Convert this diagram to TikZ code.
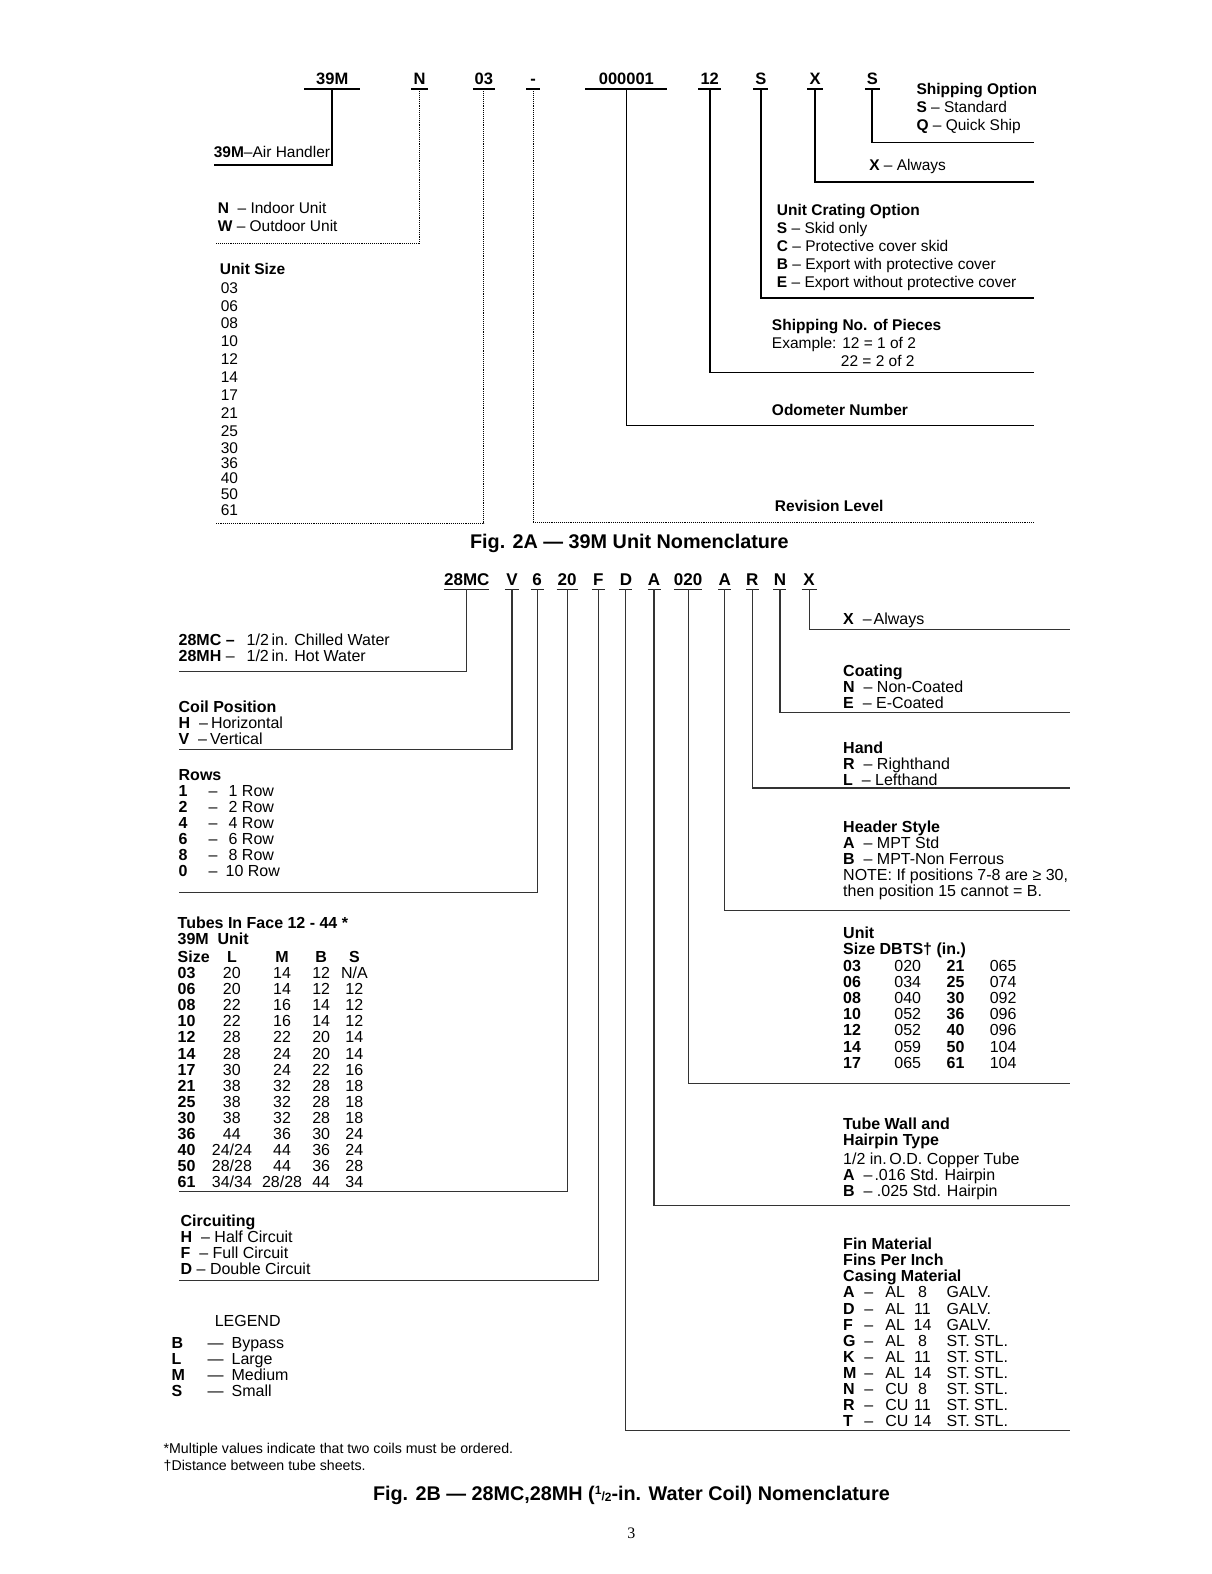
\documentclass[tikz,border=0pt]{standalone}
\usepackage{fontspec}
\setmainfont{Liberation Sans}
\newfontfamily\pagenumfont{Liberation Serif}
\tikzset{
  nomen/.style={x=1.0041pt, y=-1.0041pt,
    every node/.style={inner sep=0pt, outer sep=0pt, text=black}},
  codeA/.style={font=\fontsize{16.5}{18}\selectfont\bfseries, anchor=base,
    text depth=0pt, inner ysep=5pt, minimum width=#1},
  codeB/.style={font=\fontsize{17}{18}\selectfont\bfseries, anchor=base,
    text depth=0pt, inner ysep=4pt, minimum width=#1},
  descA/.style={font=\fontsize{15.5}{18}\selectfont, anchor=base west, align=left},
  descB/.style={font=\fontsize{16}{16}\selectfont, anchor=base west, align=left},
  cell/.style={font=\fontsize{16}{16}\selectfont, anchor=base},
  caption/.style={font=\fontsize{19.8}{22}\selectfont\bfseries, anchor=base},
  bar/.style={line width=1.8pt},
  heavy line/.style={line width=1.8pt},
  light line/.style={line width=1.1pt},
  dot line/.style={line width=0.9pt, densely dotted},
  coil bar/.style={line width=1.3pt, draw=black!85},
  coil line/.style={line width=1.1pt, draw=black!80}
}
\begin{document}
\begin{tikzpicture}[nomen]
  \fill[white] (0,0) rectangle (1207,1568);
  \useasboundingbox (0,0) rectangle (1207,1568);

  % Fig. 2A: code letters
  \node[codeA=56] (c39m) at (331,84) {39M};
  \node[codeA=17] (cN) at (418,84) {N};
  \node[codeA=22] (c03) at (482,84) {03};
  \node[codeA=14] (cRev) at (531,84) {-};
  \node[codeA=82] (cOdo) at (624,84) {000001};
  \node[codeA=23] (cShip) at (707,84) {12};
  \node[codeA=15] (cCrate) at (758,84) {S};
  \node[codeA=16] (cX) at (812,84) {X};
  \node[codeA=15] (cOpt) at (869,84) {S};
  \foreach \c in {c39m,cN,c03,cRev,cOdo,cShip,cCrate,cX,cOpt}
    \draw[bar] (\c.south west) -- (\c.south east);

  \coordinate (e39m) at (213,164);
  \coordinate (eN) at (215,243);
  \coordinate (e03) at (214,521);
  \coordinate (eRev) at (1030,520);
  \coordinate (eOdo) at (1030,424);
  \coordinate (eShip) at (1030,371);
  \coordinate (eCrate) at (1030,297);
  \coordinate (eX) at (1030,181);
  \coordinate (eOpt) at (1030,142);
  \draw[heavy line] (c39m.south) |- (e39m);
  \draw[dot line] (cN.south) |- (eN);
  \draw[dot line] (c03.south) |- (e03);
  \draw[dot line] (cRev.south) |- (eRev);
  \draw[light line] (cOdo.south) |- (eOdo);
  \draw[heavy line] (cShip.south) |- (eShip);
  \draw[heavy line] (cCrate.south) |- (eCrate);
  \draw[heavy line] (cX.south) |- (eX);
  \draw[heavy line] (cOpt.south) |- (eOpt);

  % Fig. 2A: descriptions (base = last line)
  \node[descA] (dAir) at (213,157) {\textbf{39M}–Air Handler};
  \node[descA] (dUnit) at (217,231) {\textbf{N}\ \ – Indoor Unit\\\textbf{W} – Outdoor Unit};
  \node[descA] (dSize) at (219,273) {\textbf{Unit Size}};
  \foreach \s/\yy in {03/292,06/310,08/327,10/345,12/363,14/381,17/399,
      21/417,25/435,30/452,36/467,40/482,50/498,61/514}
    \node[descA] (us\s) at (220,\yy) {\s};
  \node[descA] (dOpt) at (913,130)
    {\textbf{Shipping Option}\\\textbf{S} – Standard\\\textbf{Q} – Quick Ship};
  \node[descA] (dX) at (866,170) {\textbf{X} – Always};
  \node[descA] (dCrate) at (774,286)
    {\textbf{Unit Crating Option}\\\textbf{S} – Skid only\\\textbf{C} – Protective cover skid\\
     \textbf{B} – Export with protective cover\\\textbf{E} – Export without protective cover};
  \node[descA] (dShip) at (769,365)
    {\textbf{Shipping No. of Pieces}\\Example: 12 = 1 of 2\\\hspace*{69pt}22 = 2 of 2};
  \node[descA] (dOdo) at (769,414) {\textbf{Odometer Number}};
  \node[descA] (dRev) at (772,510) {\textbf{Revision Level}};
  \node[caption] (fig2a) at (627,546) {Fig. 2A — 39M Unit Nomenclature};

  % Fig. 2B: code letters
  \node[codeB=45] (k28) at (465,583) {28MC};
  \node[codeB=14] (kPos) at (510,583) {V};
  \node[codeB=13] (kRows) at (535,583) {6};
  \node[codeB=21] (kTubes) at (565,583) {20};
  \node[codeB=13] (kCirc) at (596,583) {F};
  \node[codeB=13] (kFin) at (623.5,583) {D};
  \node[codeB=13] (kWall) at (651.5,583) {A};
  \node[codeB=27] (kSize) at (685.5,583) {020};
  \node[codeB=13] (kHead) at (722,583) {A};
  \node[codeB=13] (kHand) at (749.5,583) {R};
  \node[codeB=13] (kCoat) at (777,583) {N};
  \node[codeB=15] (kX) at (806,583) {X};
  \foreach \c in {k28,kPos,kRows,kTubes,kCirc,kFin,kWall,kSize,kHead,kHand,kCoat,kX}
    \draw[coil bar] (\c.south west) -- (\c.south east);

  \coordinate (f28) at (178,669);
  \coordinate (fPos) at (178,747);
  \coordinate (fRows) at (178,889);
  \coordinate (fTubes) at (178,1187);
  \coordinate (fCirc) at (178,1276);
  \coordinate (fFin) at (1066,1425);
  \coordinate (fWall) at (1066,1201);
  \coordinate (fSize) at (1066,1079);
  \coordinate (fHead) at (1066,907);
  \coordinate (fHand) at (1066,785);
  \coordinate (fCoat) at (1066,710);
  \coordinate (fX) at (1066,627);
  \foreach \c in {28,Pos,Rows,Tubes,Circ,Fin,Wall,Size,Head,Hand,Coat,X}
    \draw[coil line] (k\c.south) |- (f\c);

  % Fig. 2B: left column
  \node[descB] (d28) at (178,659)
    {\makebox[68pt][l]{\textbf{28MC –}}1/2\,in. Chilled Water\\\makebox[68pt][l]{\textbf{28MH} –}1/2\,in. Hot Water};
  \node[descB] (dPos) at (178,742)
    {\textbf{Coil Position}\\\textbf{H}\ \ –\hspace{3pt}Horizontal\\\textbf{V}\ \ –\hspace{3pt}Vertical};
  \node[descB] (dRows) at (178,873)
    {\textbf{Rows}\\
     \makebox[30pt][l]{\textbf{1}}\makebox[20pt][l]{–}1 Row\\
     \makebox[30pt][l]{\textbf{2}}\makebox[20pt][l]{–}2 Row\\
     \makebox[30pt][l]{\textbf{4}}\makebox[20pt][l]{–}4 Row\\
     \makebox[30pt][l]{\textbf{6}}\makebox[20pt][l]{–}6 Row\\
     \makebox[30pt][l]{\textbf{8}}\makebox[20pt][l]{–}8 Row\\
     \makebox[30pt][l]{\textbf{0}}\makebox[17pt][l]{–}10 Row};

  \node[descB] (dTubes) at (177,941) {\textbf{Tubes In Face 12 - 44 *}\\\textbf{39M\ \ Unit}};
  \node[descB] (thSize) at (177,959) {\textbf{Size}};
  \node[cell] (thL) at (231,959) {\textbf{L}};
  \node[cell] (thM) at (281,959) {\textbf{M}};
  \node[cell] (thB) at (320,959) {\textbf{B}};
  \node[cell] (thS) at (353,959) {\textbf{S}};
  \foreach \sz/\l/\m/\b/\s [count=\i] in {03/20/14/12/{N/A},06/20/14/12/12,
      08/22/16/14/12,10/22/16/14/12,12/28/22/20/14,14/28/24/20/14,17/30/24/22/16,
      21/38/32/28/18,25/38/32/28/18,30/38/32/28/18,36/44/36/30/24,
      40/{24/24}/44/36/24,50/{28/28}/44/36/28,61/{34/34}/{28/28}/44/34}
  {
    \node[descB] (tz\i) at (177,{959+16*\i}) {\textbf{\sz}};
    \node[cell] (tl\i) at (231,{959+16*\i}) {\l};
    \node[cell] (tm\i) at (281,{959+16*\i}) {\m};
    \node[cell] (tb\i) at (320,{959+16*\i}) {\b};
    \node[cell] (ts\i) at (353,{959+16*\i}) {\s};
  }

  \node[descB] (dCirc) at (180,1270)
    {\textbf{Circuiting}\\\textbf{H}\ \ – Half Circuit\\\textbf{F}\ \ – Full Circuit\\\textbf{D} – Double Circuit};

  \node[descB] (dLeg) at (214,1321) {LEGEND};
  \foreach \k/\w [count=\i] in {B/Bypass,L/Large,M/Medium,S/Small}
    \node[descB] (lg\i) at (171,{1327+16*\i}) {\makebox[36pt][l]{\textbf{\k}}—\hspace{8pt}\w};

  \node[font=\fontsize{14.2}{17}\selectfont, anchor=base west, align=left] (dNote) at (163,1465)
    {*Multiple values indicate that two coils must be ordered.\\†Distance between tube sheets.};

  % Fig. 2B: right column
  \node[descB] (dXB) at (840,622) {\textbf{X}\ \ –\hspace{2pt}Always};
  \node[descB] (dCoat) at (840,706)
    {\textbf{Coating}\\\textbf{N}\ \ – Non-Coated\\\textbf{E}\ \ – E-Coated};
  \node[descB] (dHand) at (840,782)
    {\textbf{Hand}\\\textbf{R}\ \ – Righthand\\\textbf{L}\ \ – Lefthand};
  \node[descB] (dHead) at (840,893)
    {\textbf{Header Style}\\\textbf{A}\ \ – MPT Std\\\textbf{B}\ \ – MPT-Non Ferrous\\
     NOTE: If positions 7-8 are ≥ 30,\\then position 15 cannot = B.};
  \node[descB] (dDbts) at (840,951) {\textbf{Unit}\\\textbf{Size DBTS† (in.)}};
  \foreach \a/\b/\c/\d [count=\i] in {03/020/21/065,06/034/25/074,08/040/30/092,
      10/052/36/096,12/052/40/096,14/059/50/104,17/065/61/104}
  {
    \node[descB] (da\i) at (840,{952+16*\i}) {\textbf{\a}};
    \node[descB] (db\i) at (891,{952+16*\i}) {\b};
    \node[descB] (dc\i) at (943,{952+16*\i}) {\textbf{\c}};
    \node[descB] (dd\i) at (986,{952+16*\i}) {\d};
  }
  \node[descB] (dWall) at (840,1192)
    {\textbf{Tube Wall and}\\\textbf{Hairpin Type}\\[3pt]1/2 in.\,O.D. Copper Tube\\
     \textbf{A}\ \ –\hspace{2pt}.016 Std. Hairpin\\\textbf{B}\ \ – .025 Std. Hairpin};
  \node[descB] (dFin) at (840,1277)
    {\textbf{Fin Material}\\\textbf{Fins Per Inch}\\\textbf{Casing Material}};
  \foreach \k/\m/\n/\c [count=\i] in {A/AL/8/GALV.,D/AL/11/GALV.,F/AL/14/GALV.,
      G/AL/8/ST. STL.,K/AL/11/ST. STL.,M/AL/14/ST. STL.,
      N/CU/8/ST. STL.,R/CU/11/ST. STL.,T/CU/14/ST. STL.}
  {
    \node[descB] (fk\i) at (840,{1277+16*\i}) {\textbf{\k}};
    \node[descB] (fd\i) at (861,{1277+16*\i}) {–};
    \node[descB] (fm\i) at (882,{1277+16*\i}) {\m};
    \node[cell] (fn\i) at (919,{1277+16*\i}) {\n};
    \node[descB] (fc\i) at (943,{1277+16*\i}) {\c};
  }

  \node[caption] (fig2b) at (629,1495)
    {Fig. 2B — 28MC,28MH ({\fontsize{12}{12}\selectfont\raisebox{6pt}{1}/\raisebox{-1pt}{2}}-in. Water Coil) Nomenclature};
  \node[font=\pagenumfont\fontsize{16}{18}\selectfont, anchor=base] (pg) at (629,1533) {3};
\end{tikzpicture}
\end{document}
